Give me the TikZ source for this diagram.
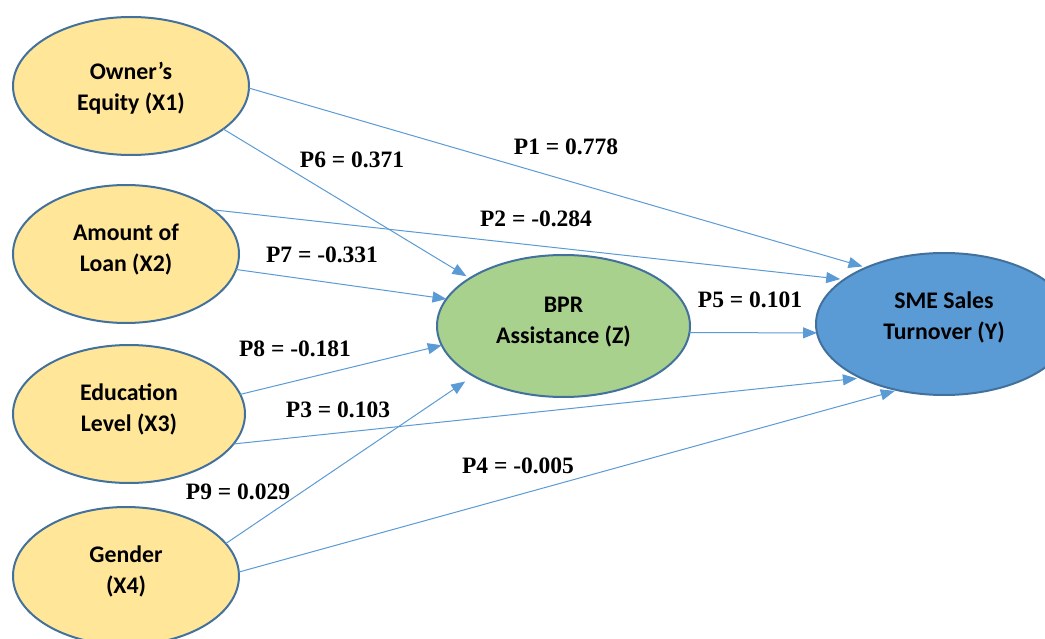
\documentclass[tikz,border=0pt]{standalone}
\usepackage{fontspec}
\newfontfamily\calfont{Carlito}
\newfontfamily\timesfont{Liberation Serif}
\usetikzlibrary{shapes.geometric,arrows.meta}
\definecolor{yel}{HTML}{FFE699}
\definecolor{grn}{HTML}{A9D18E}
\definecolor{blu}{HTML}{5B9BD5}
\definecolor{bord}{HTML}{41719C}
\definecolor{lblue}{HTML}{5B9BD5}
\newcommand{\twoline}[3][4pt]{\raisebox{#1}[\height][\depth]{\begin{tabular}{@{}c@{}}#2\\#3\end{tabular}}}
\begin{document}
\begin{tikzpicture}[x=1pt,y=-1pt,
  ell/.style={ellipse, draw=bord, line width=2pt, inner sep=0pt, outer sep=0pt,
    font=\calfont\bfseries\fontsize{23.8}{31}\selectfont},
  lab/.style={inner sep=0pt, font=\timesfont\bfseries\fontsize{23.5}{28}\selectfont},
  arr/.style={draw=lblue, line width=1pt, -{Triangle[length=14pt,width=11pt]}}]
\useasboundingbox (0,0) rectangle (1045,639);
\clip (0,0) rectangle (1045,639);
\fill[white] (0,0) rectangle (1045,639);
% nodes
\node[ell, fill=yel, minimum width=236pt, minimum height=138pt] (x1) at (131,86) {\twoline[-3pt]{Owner’s}{Equity (X1)}};
\node[ell, fill=yel, minimum width=226pt, minimum height=138pt] (x2) at (126,254) {\twoline{Amount of}{Loan (X2)}};
\node[ell, fill=yel, minimum width=232pt, minimum height=138pt] (x3) at (129,414) {\twoline{Education}{Level (X3)}};
\node[ell, fill=yel, minimum width=226pt, minimum height=138pt] (x4) at (126,576) {\twoline{Gender}{(X4)}};
\node[ell, fill=grn, minimum width=253pt, minimum height=142pt] (z) at (563.5,326) {\twoline[4.5pt]{BPR}{Assistance (Z)}};
\node[ell, fill=blu, minimum width=256pt, minimum height=142pt] (y) at (944,324) {\twoline[6pt]{SME Sales}{Turnover (Y)}};
% connectors
\draw[arr, shorten >=4pt] (x1.-1) -- (y.144);
\draw[arr, shorten >=4pt] (x1.-25) -- (z.153);
\draw[arr, shorten >=4pt] (x2.27) -- (y.156);
\draw[arr] (x2.-8) -- (z.167);
\draw[arr] (x3.10) -- (z.189);
\draw[arr, shorten >=4pt] (x3.-16) -- (y.213);
\draw[arr, shorten >=10pt] (x4.18) -- (z.209);
\draw[arr, shorten >=3pt] (x4.2) -- (y.235);
\draw[arr] (z.-3) -- (y.184);
% labels
\node[lab] (l1) at (566,147) {P1 = 0.778};
\node[lab] (l2) at (536,219) {P2 = -0.284};
\node[lab] (l6) at (352,160) {P6 = 0.371};
\node[lab] (l7) at (322,255) {P7 = -0.331};
\node[lab] (l5) at (750,300) {P5 = 0.101};
\node[lab] (l8) at (295,349) {P8 = -0.181};
\node[lab] (l3) at (338,410) {P3 = 0.103};
\node[lab] (l9) at (238,492) {P9 = 0.029};
\node[lab] (l4) at (518,466) {P4 = -0.005};
\end{tikzpicture}
\end{document}
